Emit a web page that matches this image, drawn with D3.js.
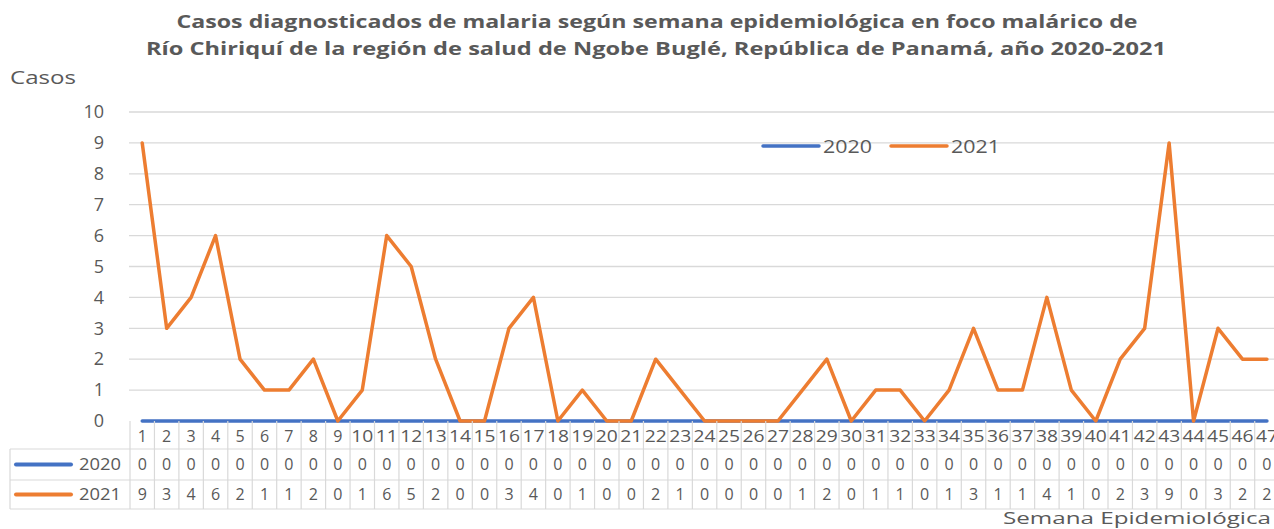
<!DOCTYPE html>
<html>
<head>
<meta charset="utf-8">
<script src="https://cdn.jsdelivr.net/npm/d3@7"></script>
<style>
  body { margin: 0; background: #fff; }
  svg text { font-family: "Open Sans", "Noto Sans", sans-serif; fill: #595959; }
</style>
</head>
<body>
<svg id="chart" width="1274" height="529"></svg>
<script>
// ── Data ──────────────────────────────────────────────────────────────────
const weeks = d3.range(1, 48).map(String);
const cases2020 = [0,0,0,0,0,0,0,0,0,0,0,0,0,0,0,0,0,0,0,0,0,0,0,0,0,0,0,0,0,0,0,0,0,0,0,0,0,0,0,0,0,0,0,0,0,0,0];
const cases2021 = [9,3,4,6,2,1,1,2,0,1,6,5,2,0,0,3,4,0,1,0,0,2,1,0,0,0,0,1,2,0,1,1,0,1,3,1,1,4,1,0,2,3,9,0,3,2,2];
const yTicks = [0,1,2,3,4,5,6,7,8,9,10];
const seriesNames = ['2020', '2021'];
const seriesColors = ['#4472C4', '#ED7D31'];
const titleLines = [
  'Casos diagnosticados  de malaria según semana epidemiológica en foco malárico de',
  'Río Chiriquí de la región de salud de Ngobe Buglé, República de Panamá,  año 2020-2021'
];

// ── Layout ────────────────────────────────────────────────────────────────
const plotLeft = 130, bw = 24.45;
const plotTop = 112, zeroY = 421;
const rowH = [28, 31, 29];   // header, 2020, 2021
const tableLeft = 10;

const svg = d3.select('#chart');

const x = d3.scaleBand().domain(weeks).range([plotLeft, plotLeft + bw * weeks.length]);
const y = d3.scaleLinear().domain([0, 10]).range([zeroY, plotTop]);

// ── Title ─────────────────────────────────────────────────────────────────
svg.append('text').attr('x', 657).attr('y', 28).attr('text-anchor', 'middle')
  .attr('font-size', 17).attr('font-weight', 'bold')
  .attr('textLength', 961).attr('lengthAdjust', 'spacingAndGlyphs')
  .text(titleLines[0]);
svg.append('text').attr('x', 656).attr('y', 55).attr('text-anchor', 'middle')
  .attr('font-size', 17).attr('font-weight', 'bold')
  .attr('textLength', 1020).attr('lengthAdjust', 'spacingAndGlyphs')
  .text(titleLines[1]);

svg.append('text').attr('x', 10).attr('y', 84).attr('font-size', 19)
  .attr('textLength', 66).attr('lengthAdjust', 'spacingAndGlyphs').text('Casos');

// ── Grid + y axis ─────────────────────────────────────────────────────────
svg.append('g').selectAll('line').data(yTicks.filter(d => d > 0)).join('line')
  .attr('x1', plotLeft - 1).attr('x2', 1274)
  .attr('y1', d => y(d)).attr('y2', d => y(d))
  .attr('stroke', '#d9d9d9').attr('stroke-width', 1.3);

const yAxis = svg.append('g').attr('transform', `translate(${plotLeft - 26},0)`)
  .call(d3.axisLeft(y).tickValues(yTicks).tickSize(0).tickPadding(0));
yAxis.select('.domain').remove();
yAxis.selectAll('text').attr('font-size', 18).attr('fill', '#595959')
  .style('font-family', '"Open Sans", sans-serif');

// ── Legend ────────────────────────────────────────────────────────────────
const legendX = [763, 891];
seriesNames.forEach((name, i) => {
  svg.append('line').attr('x1', legendX[i]).attr('x2', legendX[i] + 56)
    .attr('y1', 146).attr('y2', 146)
    .attr('stroke', seriesColors[i]).attr('stroke-width', 3.5).attr('stroke-linecap', 'round');
  svg.append('text').attr('x', legendX[i] + 60).attr('y', 153)
    .attr('font-size', 19).attr('textLength', 49).attr('lengthAdjust', 'spacingAndGlyphs')
    .text(name);
});

// ── Lines ─────────────────────────────────────────────────────────────────
const line = d3.line()
  .x((d, i) => x(weeks[i]) + x.bandwidth() / 2)
  .y(d => y(d));

[cases2020, cases2021].forEach((vals, i) => {
  svg.append('path').datum(vals)
    .attr('fill', 'none')
    .attr('stroke', seriesColors[i])
    .attr('stroke-width', 3.5)
    .attr('stroke-linejoin', 'round')
    .attr('stroke-linecap', 'round')
    .attr('d', line);
});

// ── Data table ────────────────────────────────────────────────────────────
const rowTop = [zeroY, zeroY + rowH[0], zeroY + rowH[0] + rowH[1]];
const tableBottom = rowTop[2] + rowH[2];
const grid = svg.append('g').attr('stroke', '#d9d9d9').attr('stroke-width', 1.2);

// horizontal lines
grid.append('line').attr('x1', tableLeft).attr('x2', 1274).attr('y1', rowTop[1]).attr('y2', rowTop[1]);
grid.append('line').attr('x1', tableLeft).attr('x2', 1274).attr('y1', rowTop[2]).attr('y2', rowTop[2]);
grid.append('line').attr('x1', tableLeft).attr('x2', 1274).attr('y1', tableBottom).attr('y2', tableBottom);
grid.append('line').attr('x1', tableLeft).attr('x2', tableLeft).attr('y1', rowTop[1]).attr('y2', tableBottom);

// vertical lines at band boundaries
grid.selectAll('.vline').data(weeks).join('line')
  .attr('class', 'vline')
  .attr('x1', d => x(d)).attr('x2', d => x(d))
  .attr('y1', zeroY).attr('y2', tableBottom);

// header row: week numbers
svg.append('g').selectAll('text').data(weeks).join('text')
  .attr('x', d => x(d) + x.bandwidth() / 2)
  .attr('y', rowTop[0] + 21)
  .attr('text-anchor', 'middle')
  .attr('font-size', 16)
  .attr('textLength', d => d.length > 1 ? 22 : null)
  .attr('lengthAdjust', 'spacingAndGlyphs')
  .text(d => d);

// value rows
[cases2020, cases2021].forEach((vals, r) => {
  const cy = rowTop[r + 1] + rowH[r + 1] / 2;
  svg.append('line').attr('x1', 16).attr('x2', 71)
    .attr('y1', cy).attr('y2', cy)
    .attr('stroke', seriesColors[r]).attr('stroke-width', 4).attr('stroke-linecap', 'round');
  svg.append('text').attr('x', 121).attr('y', cy + 5.5)
    .attr('text-anchor', 'end').attr('font-size', 17)
    .attr('textLength', 42).attr('lengthAdjust', 'spacingAndGlyphs').text(seriesNames[r]);
  svg.append('g').selectAll('text').data(vals).join('text')
    .attr('x', (d, i) => x(weeks[i]) + x.bandwidth() / 2)
    .attr('y', cy + 5.5)
    .attr('text-anchor', 'middle')
    .attr('font-size', 16)
    .text(d => d);
});

svg.append('text').attr('x', 1271).attr('y', 524).attr('text-anchor', 'end')
  .attr('font-size', 17).attr('textLength', 268).attr('lengthAdjust', 'spacingAndGlyphs')
  .text('Semana Epidemiológica');
</script>
</body>
</html>
